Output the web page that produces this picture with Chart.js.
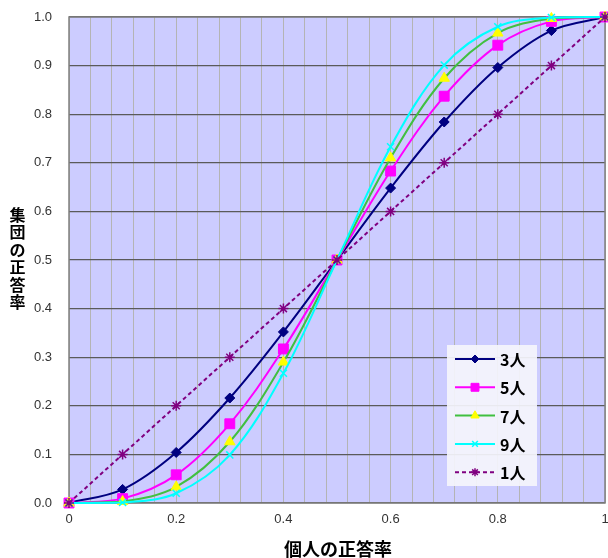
<!DOCTYPE html>
<html>
<head>
<meta charset="utf-8">
<script src="https://cdn.jsdelivr.net/npm/chart.js@4/dist/chart.umd.min.js"></script>
<style>
  html, body { margin: 0; padding: 0; background: #fff; }
  #wrap { width: 608px; height: 558px; }
</style>
</head>
<body>
<div id="wrap"><canvas id="chart" width="608" height="558"></canvas></div>
<script>
// individual probability of a correct answer (x axis)
const pIndividual = [0, 0.1, 0.2, 0.3, 0.4, 0.5, 0.6, 0.7, 0.8, 0.9, 1];

// group correct rate, majority vote
const group3 = [0, 0.028, 0.104, 0.216, 0.352, 0.5, 0.648, 0.784, 0.896, 0.972, 1];
const group5 = [0, 0.009, 0.058, 0.163, 0.317, 0.5, 0.683, 0.837, 0.942, 0.991, 1];
const group7 = [0, 0.003, 0.033, 0.126, 0.290, 0.5, 0.710, 0.874, 0.967, 0.997, 1];
const group9 = [0, 0.001, 0.020, 0.099, 0.267, 0.5, 0.733, 0.901, 0.980, 0.999, 1];
const group1 = [0, 0.1, 0.2, 0.3, 0.4, 0.5, 0.6, 0.7, 0.8, 0.9, 1];

const seriesLabels = ['3人', '5人', '7人', '9人', '1人'];
const xTitle = '個人の正答率';
const yTitle = '集団の正答率';

const toPoints = ys => ys.map((y, i) => ({x: pIndividual[i], y}));

const jpFont = '"Noto Sans CJK JP", "Noto Sans", sans-serif';

// plot background + border
const plotFrame = {
    id: 'plotFrame',
    beforeDraw(chart) {
        const {ctx, chartArea: a} = chart;
        ctx.save();
        ctx.fillStyle = '#CCCCFF';
        ctx.fillRect(a.left, a.top, a.right - a.left, a.bottom - a.top);
        ctx.restore();
    },
    beforeDatasetsDraw(chart) {
        const {ctx, chartArea: a} = chart;
        ctx.save();
        ctx.strokeStyle = '#808080';
        ctx.lineWidth = 1.5;
        ctx.strokeRect(a.left, a.top, a.right - a.left, a.bottom - a.top);
        ctx.restore();
    }
};

// axis titles (y one written top to bottom) and the legend box
const extras = {
    id: 'extras',
    afterDraw(chart) {
        const {ctx} = chart;
        ctx.save();
        ctx.fillStyle = '#000';
        ctx.textAlign = 'center';
        ctx.textBaseline = 'middle';
        ctx.font = 'bold 18px ' + jpFont;
        ctx.fillText(xTitle, 338, 549);
        ctx.font = 'bold 16px ' + jpFont;
        const chars = [...yTitle];
        chars.forEach((c, i) => {
            ctx.fillText(c, 17.5, 215 + i * 17.4);
        });

        // legend
        const bx = 447, by = 345, bw = 90, bh = 141;
        ctx.fillStyle = 'rgba(245,245,252,0.92)';
        ctx.fillRect(bx, by, bw, bh);
        const sets = chart.data.datasets;
        const drawPoint = Chart.helpers && Chart.helpers.drawPoint;
        seriesLabels.forEach((lab, i) => {
            const ds = sets.find(d => d.label === lab);
            const y = 359 + i * 28.3;
            ctx.save();
            ctx.strokeStyle = ds.borderColor;
            ctx.lineWidth = ds.borderWidth;
            ctx.setLineDash(ds.borderDash || []);
            ctx.beginPath();
            ctx.moveTo(455, y);
            ctx.lineTo(495, y);
            ctx.stroke();
            ctx.setLineDash([]);
            ctx.fillStyle = ds.pointBackgroundColor;
            ctx.strokeStyle = ds.pointBorderColor;
            ctx.lineWidth = ds.pointBorderWidth;
            if (drawPoint) {
                drawPoint(ctx, {
                    pointStyle: ds.pointStyle,
                    radius: ds.pointRadius * 0.8,
                    rotation: 0,
                    borderWidth: ds.pointBorderWidth
                }, 475, y);
            }
            ctx.restore();
            ctx.fillStyle = '#000';
            ctx.textAlign = 'left';
            ctx.font = 'bold 16px ' + jpFont;
            ctx.fillText(lab, 500, y + 1);
        });
        ctx.restore();
    }
};

const lineSet = (label, ys, color, style, radius, extra) => Object.assign({
    label,
    data: toPoints(ys),
    borderColor: color,
    borderWidth: 2,
    pointStyle: style,
    pointRadius: radius,
    pointHoverRadius: radius,
    pointBackgroundColor: color,
    pointBorderColor: color,
    pointBorderWidth: 1,
    tension: 0.35,
    clip: false,
    fill: false
}, extra || {});

const ctx = document.getElementById('chart').getContext('2d');
const chart = new Chart(ctx, {
    type: 'line',
    data: {
        datasets: [
            lineSet('3人', group3, '#000080', 'rectRot', 5, {order: 4}),
            lineSet('5人', group5, '#FF00FF', 'rect', 7, {order: 3}),
            lineSet('7人', group7, '#40C040', 'triangle', 6, {order: 2, pointBackgroundColor: '#FFFF00', pointBorderColor: '#FFFF00'}),
            lineSet('9人', group9, '#00FFFF', 'crossRot', 5, {order: 1, pointBorderWidth: 1.5}),
            lineSet('1人', group1, '#800080', 'star', 5, {order: 0, tension: 0, borderDash: [4, 3], pointBorderWidth: 1.5})
        ]
    },
    options: {
        responsive: false,
        animation: false,
        layout: {autoPadding: false, padding: {top: 17, right: 3, left: 0, bottom: 0}},
        plugins: {
            legend: {display: false},
            tooltip: {enabled: false}
        },
        scales: {
            x: {
                type: 'linear',
                min: 0,
                max: 1,
                afterFit: s => { s.height = 55; s.paddingLeft = 0; s.paddingRight = 0; },
                grid: {color: '#B4B4B4', lineWidth: 1, drawTicks: false},
                border: {display: false},
                ticks: {
                    stepSize: 0.04,
                    autoSkip: false,
                    maxRotation: 0,
                    padding: 9,
                    color: '#333',
                    font: {family: '"Liberation Sans", Arial, sans-serif', size: 13},
                    callback: v => {
                        const k = v / 0.2;
                        if (Math.abs(k - Math.round(k)) > 1e-6) return '';
                        if (Math.abs(v) < 1e-9) return '0';
                        if (Math.abs(v - 1) < 1e-9) return '1';
                        return v.toFixed(1);
                    }
                }
            },
            y: {
                min: 0,
                max: 1,
                afterFit: s => { s.width = 69; s.paddingTop = 0; s.paddingBottom = 0; },
                grid: {color: '#5A5A5A', lineWidth: 1.2, drawTicks: false},
                border: {display: false},
                ticks: {
                    stepSize: 0.1,
                    padding: 17,
                    color: '#333',
                    font: {family: '"Liberation Sans", Arial, sans-serif', size: 13},
                    callback: v => v.toFixed(1)
                }
            }
        }
    },
    plugins: [plotFrame, extras]
});
</script>
</body>
</html>
